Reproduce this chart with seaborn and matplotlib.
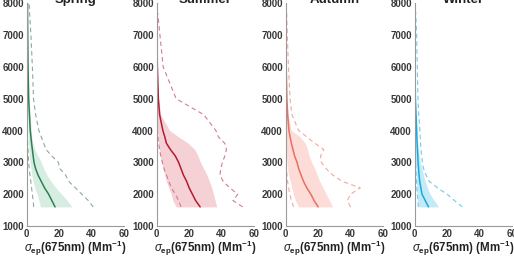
import numpy as np
import pandas as pd
import matplotlib
matplotlib.use("Agg")
import matplotlib.pyplot as plt
import seaborn as sns

# altitude grid (m) shared by all seasons
altitude = [1600, 1800, 2000, 2200, 2400, 2600, 2800, 3000, 3200, 3400,
            3600, 3800, 4000, 4500, 5000, 6000, 7000, 7700, 8000]
nan = np.nan

seasons = ["Spring", "Summer", "Autumn", "Winter"]

spring_median = [17.5, 15.5, 13.5, 11, 9, 7, 5.5, 4.5, 4, 3.5, 3, 2.6, 2.2, 1.7, 1.2, 0.8, 0.6, 0.5, 0.5]
spring_upper = [28, 25, 21.5, 18, 15, 12.5, 10.5, 9, 7, 5, 3.8, 3.2, 2.8, 2.1, 1.5, 1.0, 0.8, 0.6, 0.6]
spring_lower = [8.5, 7.5, 6.5, 5, 4, 3.2, 2.6, 2, 1.6, 1.3, 1.1, 1.0, 0.9, 0.7, 0.5, 0.3, 0.2, 0.1, 0.1]
spring_p_hi = [41, 38, 34, 30, 26, 24, 20.5, 19.5, 15.5, 12, 10.5, 9, 7.5, 5.5, 4.2, 3.5, 2.6, 1.8, 1.5]
spring_p_lo = [4.3, 4, 3.5, 3, 2.5, 2, 1.6, 1.2, 1, 0.8, 0.6, 0.5, 0.4, 0.2, 0.1, 0, 0, 0, 0]

summer_median = [26.8, 24, 22, 20, 18.5, 16.5, 15, 13.5, 11.5, 8.5, 6, 5, 3.8, 1.8, 1, 0.4, 0.2, 0, nan]
summer_upper = [37, 36, 35, 34, 32.5, 31, 29, 27, 25.5, 23.5, 19.5, 13.5, 8, 2.5, 1.2, 0.5, 0.3, 0, nan]
summer_lower = [12, 10, 9, 7.5, 6, 5, 4, 3, 2.3, 1.7, 1.2, 0.9, 0.6, 0.3, 0.2, 0.1, 0, 0, nan]
summer_p_hi = [53, 47, 50, 45, 41, 39, 39.5, 40.5, 42, 43, 42, 38, 36.5, 29, 12, 4, 2, 0.6, nan]
summer_p_lo = [15, 13.5, 11.5, 9, 7.5, 6, 4.5, 3.5, 2.5, 1.8, 1.2, 0.8, 0.5, 0.2, 0, 0, 0, 0, nan]

autumn_median = [20, 17.5, 15.5, 13, 11, 9.5, 8, 7, 5.5, 4.5, 3.5, 2.7, 2, 1.2, 0.7, 0.3, 0.1, 0, nan]
autumn_upper = [29, 27, 25, 23, 21, 19.5, 18, 16, 14.5, 13.5, 12, 9, 3.5, 1.5, 0.8, 0.4, 0.2, 0, nan]
autumn_lower = [8, 6, 4.8, 3.8, 2.8, 1.8, 1.2, 0.8, 0.5, 0.3, 0.2, 0.1, 0.1, 0, 0, 0, 0, 0, nan]
autumn_p_hi = [40, 38, 40, 46, 35, 29, 25, 22, 21.5, 23.5, 18, 13, 8, 3.8, 2.7, 1.7, 1, 0.6, nan]
autumn_p_lo = [4.8, 3.5, 2.5, 1.8, 1.2, 0.8, 0.5, 0.3, 0.2, 0.1, 0, 0, 0, 0, 0, 0, 0, 0, nan]

winter_median = [8.5, 6.5, 4.5, 3.8, 3.1, 2.7, 2.4, 2.1, 1.9, 1.7, 1.5, 1.35, 1.2, 0.8, 0.4, 0.2, 0.1, 0.05, 0]
winter_upper = [14.8, 12, 9.5, 7.8, 6.5, 5.4, 4.5, 3.6, 2.8, 2.3, 1.9, 1.6, 1.4, 0.9, 0.5, 0.3, 0.2, 0.1, 0]
winter_lower = [2.3, 1.8, 1.5, 1.3, 1.0, 0.8, 0.7, 0.5, 0.4, 0.3, 0.2, 0.1, 0, 0, 0, 0, 0, 0, 0]
winter_p_hi = [29.4, 24.5, 20, 14, 9, 7, 5.5, 4.8, 4.3, 3.9, 3.6, 3.4, 3.2, 2.5, 2, 1.6, 1.2, 0.6, 0]
winter_p_lo = [2.2, 2, 1.6, 1.3, 1.1, 0.9, 0.7, 0.5, 0.3, 0.2, 0.1, 0, 0, 0, 0, 0, 0, 0, 0]

profiles = {
    "Spring": (spring_median, spring_lower, spring_upper, spring_p_lo, spring_p_hi),
    "Summer": (summer_median, summer_lower, summer_upper, summer_p_lo, summer_p_hi),
    "Autumn": (autumn_median, autumn_lower, autumn_upper, autumn_p_lo, autumn_p_hi),
    "Winter": (winter_median, winter_lower, winter_upper, winter_p_lo, winter_p_hi),
}

line_colors = {"Spring": "#2b8052", "Summer": "#b31b30", "Autumn": "#e86f62", "Winter": "#1ba8df"}
fill_colors = {"Spring": "#d3ebdf", "Summer": "#f4cbd1", "Autumn": "#fdd8d2", "Winter": "#bde8f7"}
dash_colors = {"Spring": "#8fa89c", "Summer": "#d67c8b", "Autumn": "#f2a9a0", "Winter": "#72cbe8"}

sns.set_theme(style="white")
plt.rcParams['font.family'] = ['Liberation Sans', 'DejaVu Sans']
plt.rcParams['mathtext.fontset'] = 'custom'
plt.rcParams['mathtext.rm'] = 'Liberation Sans:bold'
plt.rcParams['mathtext.it'] = 'Liberation Sans:italic'
plt.rcParams['mathtext.bf'] = 'Liberation Sans:bold'

W, H = 514, 256
fig = plt.figure(figsize=(W / 100, H / 100), dpi=100)

lefts = [26.7, 156.7, 285.7, 414.7]
ax_w, ax_top, ax_bot = 97.3, 3.3, 226.0

for i, season in enumerate(seasons):
    ax = fig.add_axes([lefts[i] / W, (H - ax_bot) / H, ax_w / W, (ax_bot - ax_top) / H])
    med, lo, hi, plo, phi = profiles[season]
    df = pd.DataFrame({"alt": altitude, "median": med, "lo": lo, "hi": hi, "plo": plo, "phi": phi})

    ax.fill_betweenx(df["alt"], df["lo"], df["hi"], color=fill_colors[season], lw=0, alpha=0.9)
    for col in ["plo", "phi"]:
        sns.lineplot(data=df, x=col, y="alt", sort=False, orient="y", ax=ax,
                     color=dash_colors[season], lw=0.8, linestyle=(0, (4, 3)))
    sns.lineplot(data=df, x="median", y="alt", sort=False, orient="y", ax=ax,
                 color=line_colors[season], lw=1.1)

    ax.set_xlim(0, 60)
    ax.set_ylim(1000, 8000)
    ax.set_xticks([0, 20, 40, 60])
    ax.set_yticks(range(1000, 8001, 1000))
    sns.despine(ax=ax)
    for sp in ["left", "bottom"]:
        ax.spines[sp].set_color("#9a9a9a")
        ax.spines[sp].set_linewidth(0.8)
    ax.tick_params(labelsize=7, colors="#383838", length=2, direction="in", pad=2)
    for lab in ax.get_xticklabels() + ax.get_yticklabels():
        lab.set_fontweight("bold")
    ax.set_xlabel(r'$\mathit{\sigma}_{\mathrm{ep}}$(675nm) (Mm$^{\mathrm{-1}}$)', fontsize=8.3,
                  fontweight="bold", color="#222222", labelpad=0)
    if i == 0:
        ax.set_ylabel("Altitude (m)", fontsize=8, fontweight="bold", color="#999999", labelpad=20)
    else:
        ax.set_ylabel("")
    ax.set_title(season, fontsize=9.5, fontweight="bold", color="#222222", pad=0.5)

fig.savefig("out.png", dpi=100)
